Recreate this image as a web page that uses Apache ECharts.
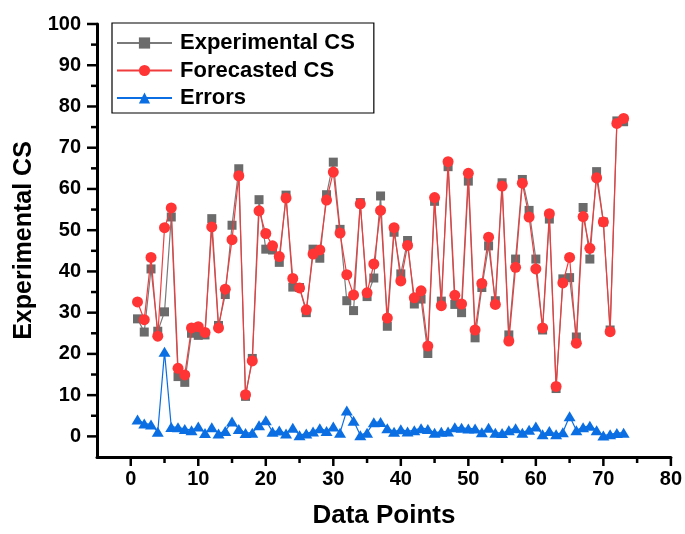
<!DOCTYPE html>
<html>
<head>
<meta charset="utf-8">
<script src="https://cdn.jsdelivr.net/npm/echarts@6/dist/echarts.min.js"></script>
<style>
html,body{margin:0;padding:0;background:#fff;}
#chart{width:685px;height:534px;}
</style>
</head>
<body>
<div id="chart"></div>
<script>
const dataPoints = [1,2,3,4,5,6,7,8,9,10,11,12,13,14,15,16,17,18,19,20,21,22,23,24,25,26,27,28,29,30,31,32,33,34,35,36,37,38,39,40,41,42,43,44,45,46,47,48,49,50,51,52,53,54,55,56,57,58,59,60,61,62,63,64,65,66,67,68,69,70,71,72,73];
const experimentalCS = [28.5,25.3,40.6,25.5,30.2,53.2,14.5,13.1,25.0,24.5,24.6,52.8,26.9,34.4,51.2,64.9,9.7,18.9,57.4,45.4,45.2,42.2,58.5,36.2,36.1,30.0,45.4,43.2,58.6,66.5,50.2,32.9,30.5,56.7,33.9,38.4,58.3,26.7,49.5,39.4,47.5,32.1,33.3,20.1,57.0,32.8,65.4,32.0,30.0,61.9,23.9,36.1,46.2,32.9,61.5,24.6,43.0,62.3,54.8,43.0,25.8,52.7,11.6,38.2,38.5,24.1,55.5,43.0,64.2,52.0,25.8,76.5,76.3];
const forecastedCS = [32.6,28.3,43.4,24.3,50.6,55.4,16.5,14.9,26.3,26.6,25.2,50.8,26.3,35.7,47.7,63.2,10.1,18.3,54.7,49.2,46.2,43.6,57.8,38.3,36.0,30.7,44.2,45.2,57.3,64.1,49.3,39.2,34.3,56.4,34.8,41.8,54.8,28.7,50.6,37.7,46.3,33.6,35.3,21.9,57.9,31.7,66.6,34.2,32.1,63.8,25.8,37.1,48.3,32.0,60.7,23.1,41.0,61.4,53.2,40.6,26.3,54.0,12.1,37.2,43.4,22.6,53.3,45.6,62.7,52.0,25.4,75.9,77.1];
const errors = [4.1,3.1,2.9,1.1,20.5,2.3,2.2,1.8,1.5,2.4,0.8,2.2,0.7,1.3,3.6,1.8,0.8,0.9,2.7,3.9,1.1,1.4,0.7,2.1,0.3,0.7,1.2,2.0,1.3,2.4,0.9,6.3,3.8,0.3,0.9,3.4,3.5,2.0,1.1,1.7,1.2,1.5,2.0,1.8,0.9,1.1,1.2,2.2,2.1,1.9,1.9,1.0,2.1,0.9,0.8,1.5,2.0,0.9,1.6,2.4,0.5,1.3,0.5,1.0,4.9,1.5,2.2,2.6,1.5,0.2,0.5,0.8,0.9];
const yTicks = [0,10,20,30,40,50,60,70,80,90,100];
const yMinorTicks = [5,15,25,35,45,55,65,75,85,95];
const xTicks = [0,10,20,30,40,50,60,70,80];
const xMinorTicks = [5,15,25,35,45,55,65,75];

const pair = (ys) => dataPoints.map((x, i) => [x, ys[i]]);
const FONT = '"Liberation Sans", Arial, sans-serif';

const chart = echarts.init(document.getElementById('chart'), null, {renderer: 'canvas'});
const axisLineStyle = {color: '#000', width: 3};
chart.setOption({
  animation: false,
  backgroundColor: '#fff',
  grid: {left: 97, right: 13, top: 24, bottom: 72},
  legend: {
    orient: 'vertical',
    left: 112, top: 23,
    padding: [9, 19, 4, 4],
    borderColor: '#000', borderWidth: 1.2,
    backgroundColor: '#fff',
    itemWidth: 55, itemHeight: 14, itemGap: 5.5,
    textStyle: {fontFamily: FONT, fontWeight: 'bold', fontSize: 22, color: '#000', lineHeight: 21, padding: [0,0,0,3]},
    data: ['Experimental CS', 'Forecasted CS', 'Errors']
  },
  xAxis: {
    type: 'value', min: -5, max: 80,
    name: 'Data Points', nameLocation: 'middle', nameGap: 46,
    nameTextStyle: {fontFamily: FONT, fontWeight: 'bold', fontSize: 26, color: '#000'},
    axisLine: {show: true, onZero: false, lineStyle: axisLineStyle},
    axisTick: {show: false},
    axisLabel: {customValues: xTicks, margin: 12, fontFamily: FONT, fontWeight: 'bold', fontSize: 20, color: '#000'},
    splitLine: {show: false}
  },
  yAxis: {
    type: 'value', min: -5, max: 100,
    name: 'Experimental CS', nameLocation: 'middle', nameGap: 57, nameRotate: 90,
    nameTextStyle: {fontFamily: FONT, fontWeight: 'bold', fontSize: 25, color: '#000'},
    axisLine: {show: true, onZero: false, lineStyle: axisLineStyle},
    axisTick: {show: false},
    axisLabel: {customValues: yTicks, margin: 16, fontFamily: FONT, fontWeight: 'bold', fontSize: 20, color: '#000'},
    splitLine: {show: false}
  },
  series: [{
    name: 'Experimental CS', type: 'line', data: pair(experimentalCS),
    symbol: 'rect', symbolSize: 9, color: '#6b6b6b',
    lineStyle: {color: '#7a7a7a', width: 1.2},
    itemStyle: {color: '#6b6b6b'}, z: 2
  }, {
    name: 'Forecasted CS', type: 'line', data: pair(forecastedCS),
    symbol: 'circle', symbolSize: 11, color: '#ff3535',
    lineStyle: {color: '#f03c3c', width: 1.2},
    itemStyle: {color: '#ff3535'}, z: 3
  }, {
    name: 'Errors', type: 'line', data: pair(errors),
    symbol: 'triangle', symbolSize: [12, 10], color: '#0b6fe3',
    lineStyle: {color: '#0b6fe3', width: 1.2},
    itemStyle: {color: '#0b6fe3'}, z: 4
  }]
});

// Tick marks placed through the axes' own scales
const x0 = chart.convertToPixel({xAxisIndex: 0}, -5);
const y0 = chart.convertToPixel({yAxisIndex: 0}, -5);
const tickEls = [];
const addTick = (x1, y1, x2, y2) => tickEls.push({
  type: 'line', silent: true, z: 10,
  shape: {x1: x1, y1: y1, x2: x2, y2: y2},
  style: {stroke: '#000', lineWidth: 2.5}
});
yTicks.forEach(v => { const y = chart.convertToPixel({yAxisIndex: 0}, v); addTick(x0 - 10, y, x0, y); });
yMinorTicks.forEach(v => { const y = chart.convertToPixel({yAxisIndex: 0}, v); addTick(x0 - 6, y, x0, y); });
xTicks.forEach(v => { const x = chart.convertToPixel({xAxisIndex: 0}, v); addTick(x, y0, x, y0 + 9); });
xMinorTicks.forEach(v => { const x = chart.convertToPixel({xAxisIndex: 0}, v); addTick(x, y0, x, y0 + 6); });
chart.setOption({graphic: tickEls});
</script>
</body>
</html>
